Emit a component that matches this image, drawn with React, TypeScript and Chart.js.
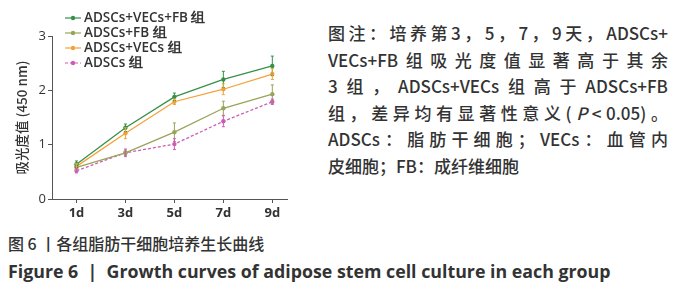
import React, { useEffect, useRef } from "react";
import { Chart, registerables } from "chart.js";

Chart.register(...registerables);

const days = [1, 3, 5, 7, 9];
const tickLabels = ["1d", "3d", "5d", "7d", "9d"];
const seriesNames = ["ADSCs+VECs+FB 组", "ADSCs+FB 组", "ADSCs+VECs 组", "ADSCs 组"];
const valsAllThree = [0.64, 1.31, 1.88, 2.2, 2.45];
const errAllThree = [0.06, 0.07, 0.07, 0.15, 0.18];
const valsFB = [0.58, 0.85, 1.23, 1.67, 1.93];
const errFB = [0.05, 0.05, 0.17, 0.13, 0.17];
const valsVECs = [0.6, 1.21, 1.79, 2.02, 2.3];
const errVECs = [0.05, 0.1, 0.05, 0.1, 0.1];
const valsADSCs = [0.52, 0.85, 1.01, 1.43, 1.79];
const errADSCs = [0.04, 0.07, 0.1, 0.1, 0.05];
const seriesColors = ["#35914a", "#9aa35a", "#f2a23a", "#cc5cb4"];
const yTitle = "吸光度值 (450 nm)";

const noteLines = [
  "图注：培养第 3，5，7，9 天，ADSCs+",
  "VECs+FB 组吸光度值显著高于其余",
  "3 组，ADSCs+VECs 组高于 ADSCs+FB",
];
const noteLine4a = "组，差异均有显著性意义 (";
const noteLine4b = "< 0.05)。";
const noteLines2 = ["ADSCs：脂肪干细胞；VECs：血管内", "皮细胞；FB：成纤维细胞"];
const captionCn = "图 6 丨各组脂肪干细胞培养生长曲线";
const captionEn = "Figure 6  |  Growth curves of adipose stem cell culture in each group";

const allVals = [valsAllThree, valsFB, valsVECs, valsADSCs];
const allErrs = [errAllThree, errFB, errVECs, errADSCs];

const errorBarPlugin = {
  id: "errorBars",
  afterDatasetsDraw(chart: any) {
    const ctx = chart.ctx;
    const xs = chart.scales.x;
    const ys = chart.scales.y;
    ctx.save();
    chart.data.datasets.forEach((ds: any, di: number) => {
      const errs = allErrs[di];
      ctx.strokeStyle = ds.borderColor;
      ctx.lineWidth = 1;
      ds.data.forEach((pt: any, i: number) => {
        const x = xs.getPixelForValue(pt.x);
        const yt = ys.getPixelForValue(pt.y + errs[i]);
        const yb = ys.getPixelForValue(pt.y - errs[i]);
        ctx.beginPath();
        ctx.moveTo(x, yt);
        ctx.lineTo(x, yb);
        ctx.moveTo(x - 1.5, yt);
        ctx.lineTo(x + 1.5, yt);
        ctx.moveTo(x - 1.5, yb);
        ctx.lineTo(x + 1.5, yb);
        ctx.stroke();
      });
    });
    ctx.restore();
  },
};

const legendPlugin = {
  id: "customLegend",
  afterDraw(chart: any) {
    const ctx = chart.ctx;
    ctx.save();
    chart.data.datasets.forEach((ds: any, i: number) => {
      const y = 18 + i * 15;
      ctx.strokeStyle = ds.borderColor;
      ctx.lineWidth = 1.2;
      ctx.setLineDash(ds.borderDash || []);
      ctx.beginPath();
      ctx.moveTo(65, y);
      ctx.lineTo(81, y);
      ctx.stroke();
      ctx.setLineDash([]);
      ctx.fillStyle = ds.borderColor;
      ctx.beginPath();
      ctx.arc(73, y, 2.2, 0, Math.PI * 2);
      ctx.fill();
      ctx.fillStyle = "#333";
      ctx.font = "600 13.5px 'Open Sans', sans-serif";
      ctx.textBaseline = "middle";
      ctx.textAlign = "left";
      ctx.fillText(ds.label, 84, y);
    });
    ctx.restore();
  },
};

function ChartView() {
  const ref = useRef<HTMLCanvasElement | null>(null);
  useEffect(() => {
    if (!ref.current) return;
    const datasets = seriesNames.map((name, i) => ({
      label: name,
      data: days.map((d, j) => ({ x: d, y: allVals[i][j] })),
      borderColor: seriesColors[i],
      backgroundColor: seriesColors[i],
      borderWidth: 1.3,
      borderDash: i === 3 ? [3, 2] : [],
      pointRadius: 2.2,
      pointBorderWidth: 0,
      tension: 0,
    }));
    const chart = new Chart(ref.current, {
      type: "line",
      data: { datasets },
      options: {
        responsive: false,
        animation: false,
        layout: { padding: { left: 0, top: 36, right: 33, bottom: 6 } },
        plugins: { legend: { display: false }, tooltip: { enabled: false } },
        scales: {
          x: {
            type: "linear",
            min: 0,
            max: 9.6,
            afterBuildTicks: (scale: any) => {
              scale.ticks = days.map((d) => ({ value: d }));
            },
            afterFit: (scale: any) => {
              scale.height = 25;
            },
            ticks: {
              callback: (v: any) => {
                const idx = days.indexOf(Number(v));
                return idx >= 0 ? tickLabels[idx] : "";
              },
              color: "#333",
              font: { family: "'Open Sans', sans-serif", size: 13, weight: "bold" },
              padding: 2,
              maxRotation: 0,
            },
            grid: { display: true, drawOnChartArea: false, tickLength: 4, color: "#555" },
            border: { display: true, color: "#555", width: 1 },
          },
          y: {
            min: 0,
            max: 3,
            afterBuildTicks: (scale: any) => {
              scale.ticks = [0, 1, 2, 3].map((v) => ({ value: v }));
            },
            afterFit: (scale: any) => {
              scale.width = 52;
            },
            ticks: {
              color: "#333",
              font: { family: "'Open Sans', sans-serif", size: 13 },
              padding: 2,
            },
            grid: { display: true, drawOnChartArea: false, tickLength: 4, color: "#555" },
            border: { display: true, color: "#555", width: 1 },
            title: {
              display: true,
              text: yTitle,
              color: "#333",
              font: { family: "'Noto Sans CJK SC', sans-serif", size: 13.5, weight: "500" },
              padding: { top: 14, bottom: 0 },
            },
          },
        },
      } as any,
      plugins: [errorBarPlugin, legendPlugin],
    });
    return () => chart.destroy();
  }, []);
  return (
    <canvas
      ref={ref}
      width={320}
      height={230}
      style={{ position: "absolute", left: 0, top: 0, width: 320, height: 230 }}
    />
  );
}

const tokenize = (s: string) => s.match(/[A-Za-z0-9+.()<]+|[^\sA-Za-z0-9+.()<]/g) || [];

export default function App() {
  useEffect(() => {
    document.body.style.margin = "0";
  }, []);
  const noteStyle: React.CSSProperties = {
    position: "absolute",
    left: 328,
    width: 340,
    fontFamily: "'Noto Sans CJK SC', sans-serif",
    fontSize: 17,
    fontWeight: 500,
    color: "#333",
    lineHeight: "20px",
    whiteSpace: "nowrap",
  };
  const justified: React.CSSProperties = {
    display: "flex",
    justifyContent: "space-between",
  };
  const spans = (s: string) => tokenize(s).map((c, k) => <span key={k}>{c}</span>);
  return (
    <div style={{ position: "relative", width: 690, height: 300, background: "#fff", overflow: "hidden" }}>
      <ChartView />
      {noteLines.map((t, i) => (
        <div key={i} style={{ ...noteStyle, ...justified, top: 23 + i * 26.6 }}>
          {spans(t)}
        </div>
      ))}
      <div style={{ ...noteStyle, ...justified, top: 23 + 3 * 26.6 }}>
        {spans(noteLine4a)}
        <span style={{ fontStyle: "italic" }}>P</span>
        {spans(noteLine4b)}
      </div>
      <div style={{ ...noteStyle, ...justified, top: 23 + 4 * 26.6 }}>{spans(noteLines2[0])}</div>
      <div style={{ ...noteStyle, top: 23 + 5 * 26.6 }}>{noteLines2[1]}</div>
      <div
        style={{
          position: "absolute",
          left: 8,
          top: 232,
          fontFamily: "'Noto Sans CJK SC', sans-serif",
          fontSize: 16,
          fontWeight: 500,
          color: "#333",
          lineHeight: "22px",
          whiteSpace: "nowrap",
        }}
      >
        {captionCn}
      </div>
      <div
        style={{
          position: "absolute",
          left: 8,
          top: 260,
          fontFamily: "'Open Sans', sans-serif",
          fontWeight: "bold",
          fontSize: 17.8,
          color: "#333",
          lineHeight: "22px",
          whiteSpace: "pre",
        }}
      >
        {captionEn}
      </div>
    </div>
  );
}
